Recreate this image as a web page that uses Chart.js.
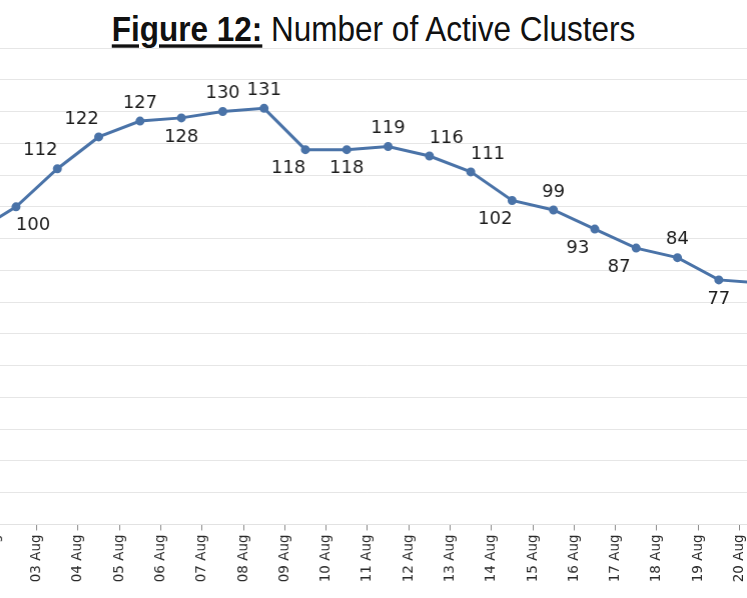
<!DOCTYPE html>
<html>
<head>
<meta charset="utf-8">
<script src="https://cdn.jsdelivr.net/npm/chart.js@4.4.1/dist/chart.umd.min.js"></script>
<style>
  html, body { margin: 0; padding: 0; background: #fff; overflow: hidden; width: 747px; height: 598px; }
  #title {
    position: absolute; left: 0; top: 14px; width: 747px; text-align: center;
    font-family: "Liberation Sans", Arial, sans-serif; font-size: 31.5px; line-height: 32px;
    color: #111; white-space: nowrap; transform: scaleY(1.12); transform-origin: center 27px;
  }
  #title b { text-decoration: underline; text-decoration-thickness: 3px; text-underline-offset: 3px; }
  #wrap { position: absolute; left: 0; top: 0; width: 900px; height: 640px; }
</style>
</head>
<body>
<div id="title"><b>Figure 12:</b> Number of Active Clusters</div>
<div id="wrap"><canvas id="clusters"></canvas></div>
<script>
var days = [
  "02 Aug", "03 Aug", "04 Aug", "05 Aug", "06 Aug", "07 Aug", "08 Aug",
  "09 Aug", "10 Aug", "11 Aug", "12 Aug", "13 Aug", "14 Aug", "15 Aug",
  "16 Aug", "17 Aug", "18 Aug", "19 Aug", "20 Aug", "21 Aug",
];

var activeClusters = [92, 100, 112, 122, 127, 128, 130, 131, 118, 118, 119, 116, 111, 102, 99, 93, 87, 84, 77, 76];

// where each value label sits around its point (a = above, b = below, l/r = left/right)
var labelPlacement = ["none", "br", "al", "al", "a", "b", "a", "a", "bl", "b", "a", "ar", "ar", "bl", "a", "bl", "bl", "a", "b", "none"];

var yMin = 0;
var yMax = 150;
var yStep = 10;

var lineColor = "#4a73a8";
var slotWidth = 41.29;

var valueLabels = {
  id: "valueLabels",
  afterDatasetsDraw: function (chart) {
    var ctx = chart.ctx;
    var points = chart.getDatasetMeta(0).data;
    ctx.save();
    ctx.font = "18px 'DejaVu Sans'";
    ctx.fillStyle = "#1c1c1c";
    ctx.textAlign = "center";
    ctx.textBaseline = "middle";
    for (var i = 0; i < points.length; i++) {
      var pos = labelPlacement[i];
      if (pos == "none") continue;
      var dx = 0;
      var dy = pos.charAt(0) == "a" ? -18 : 19;
      if (pos.indexOf("l") > 0) dx = -17;
      if (pos.indexOf("r") > 0) dx = 17;
      ctx.fillText(String(activeClusters[i]), points[i].x + dx, points[i].y + dy);
    }
    ctx.restore();
  },
};

var ctx = document.getElementById("clusters").getContext("2d");
var chart = new Chart(ctx, {
  type: "line",
  data: {
    labels: days,
    datasets: [
      {
        data: activeClusters,
        borderColor: lineColor,
        backgroundColor: lineColor,
        borderWidth: 3,
        pointRadius: 3,
        pointHoverRadius: 3,
        tension: 0,
        fill: false,
      },
    ],
  },
  options: {
    responsive: true,
    maintainAspectRatio: false,
    animation: false,
    events: [],
    layout: { padding: 0 },
    plugins: {
      legend: { display: false },
      title: { display: false },
      tooltip: { enabled: false },
    },
    scales: {
      x: {
        type: "category",
        offset: true,
        grid: {
          offset: true,
          drawOnChartArea: false,
          drawTicks: true,
          tickLength: 6,
          tickColor: "#8a8a8a",
        },
        border: { display: true, color: "#e2e2e2" },
        ticks: {
          autoSkip: false,
          minRotation: 90,
          maxRotation: 90,
          padding: 4,
          labelOffset: slotWidth / 2,
          color: "#2a2a2a",
          font: { family: "DejaVu Sans", size: 13.5 },
        },
      },
      y: {
        min: yMin,
        max: yMax,
        ticks: { display: false, stepSize: yStep },
        grid: { color: "#e6e6e6", lineWidth: 1, drawTicks: false },
        border: { display: false },
      },
    },
  },
  plugins: [valueLabels],
});

// fit the plot so it sits where the reference crop puts it
var wrap = document.getElementById("wrap");
function fitChart() {
  var xs = chart.scales.x;
  var ys = chart.scales.y;
  var w = wrap.offsetWidth;
  var h = wrap.offsetHeight;
  var extraW = w - chart.chartArea.width;
  var extraH = h - (ys.getPixelForValue(yMin) - ys.getPixelForValue(yMax));
  wrap.style.width = days.length * slotWidth + extraW + "px";
  wrap.style.height = 476.5 + extraH + "px";
  chart.resize();
  var left = 16 - xs.getPixelForValue(1);
  var top = 524.5 - ys.getPixelForValue(yMin);
  wrap.style.left = left + "px";
  wrap.style.top = top + "px";
}
fitChart();
</script>
</body>
</html>
